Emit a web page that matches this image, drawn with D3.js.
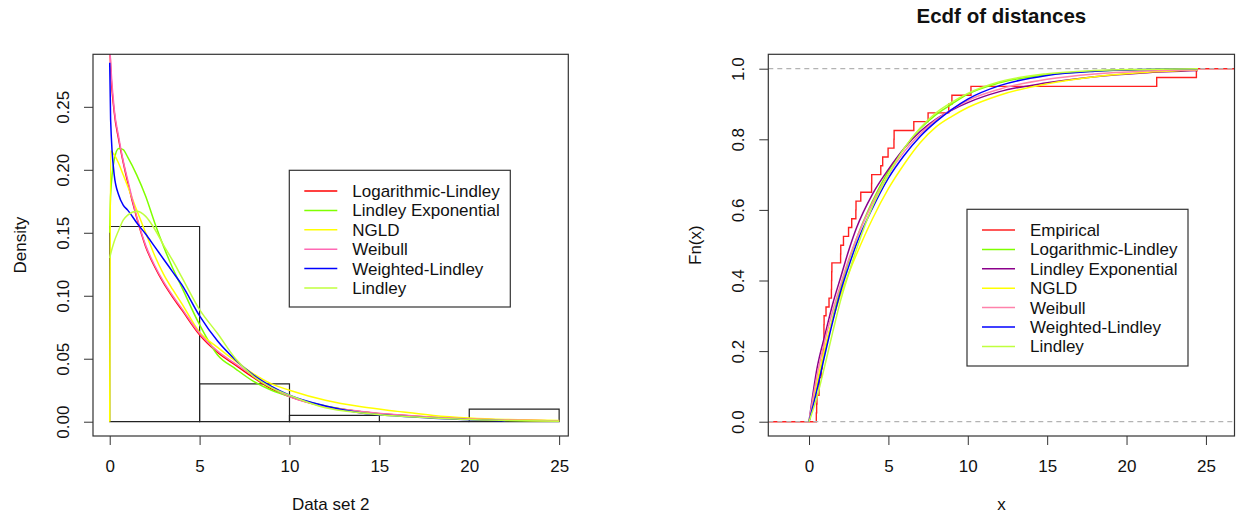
<!DOCTYPE html>
<html>
<head>
<meta charset="utf-8">
<script src="https://cdn.jsdelivr.net/npm/d3@7"></script>
<style>
    body { margin: 0; background: #fff; }
    svg text { font-family: "Liberation Sans", Arial, sans-serif; fill: #111; }
</style>
</head>
<body>
<div id="container"></div>
<script>
'use strict';
(function() {
    // ---- left panel: histogram of data set 2 + fitted densities ----
    var histBreaks = [0, 5, 10, 15, 20, 25];
    var histDensity = [0.155, 0.03, 0.005, 0, 0.01];

    var densX = [0, 0.05, 0.25, 0.5, 0.75, 1, 1.5, 2, 2.5, 3, 3.5, 4, 5, 6, 7, 8, 9, 10, 12, 14, 16, 18, 20, 22, 25];
    var densLogLindley = [0.3, 0.282, 0.246, 0.224, 0.206, 0.19, 0.162, 0.139, 0.123, 0.11, 0.099, 0.089, 0.069, 0.055, 0.045, 0.035, 0.026, 0.02, 0.012, 0.008, 0.0053, 0.0034, 0.0021, 0.0013, 0.0006];
    var densLindleyExp = [0.15, 0.18, 0.208, 0.217, 0.216, 0.21, 0.196, 0.179, 0.158, 0.139, 0.122, 0.107, 0.077, 0.053, 0.042, 0.032, 0.025, 0.02, 0.0125, 0.008, 0.005, 0.0033, 0.002, 0.0012, 0.0005];
    var densNGLD = [0, 0.215, 0.212, 0.205, 0.196, 0.187, 0.168, 0.15, 0.132, 0.117, 0.105, 0.094, 0.071, 0.059, 0.048, 0.038, 0.03, 0.025, 0.017, 0.0118, 0.0082, 0.005, 0.003, 0.0018, 0.001];
    var densWeibull = [0.3, 0.285, 0.248, 0.226, 0.207, 0.192, 0.163, 0.14, 0.124, 0.111, 0.1, 0.09, 0.07, 0.056, 0.046, 0.036, 0.027, 0.02, 0.012, 0.0082, 0.0055, 0.0035, 0.0022, 0.0013, 0.0006];
    var densWeightedLindley = [0.285, 0.24, 0.196, 0.18, 0.172, 0.168, 0.158, 0.149, 0.139, 0.129, 0.119, 0.109, 0.084, 0.064, 0.049, 0.037, 0.028, 0.021, 0.0125, 0.007, 0.0045, 0.0028, 0.0016, 0.0008, null];
    var densLindley = [0.13, 0.133, 0.143, 0.152, 0.16, 0.164, 0.167, 0.163, 0.153, 0.14, 0.128, 0.115, 0.089, 0.07, 0.05, 0.036, 0.027, 0.021, 0.011, 0.007, 0.0045, 0.003, 0.0017, 0.001, 0.0004];

    var densNames = ['Logarithmic-Lindley', 'Lindley Exponential', 'NGLD', 'Weibull', 'Weighted-Lindley', 'Lindley'];
    var densColors = ['#FF0000', '#7FFF00', '#FFFF00', '#FF69B4', '#0000FF', '#C0FF3E'];
    var densSeries = [densLogLindley, densLindleyExp, densNGLD, densWeibull, densWeightedLindley, densLindley];

    // ---- right panel: ecdf of distances + fitted cdfs ----
    var distances = [0.46, 0.48, 0.50, 0.63, 0.65, 0.78, 0.82, 0.88, 0.92, 0.94,
        0.94, 0.95, 1.07, 1.26, 1.41, 1.42, 1.43, 1.44, 1.99, 2.0,
        2.17, 2.49, 2.69, 2.95, 2.96, 3.26, 3.94, 3.95, 4.52, 4.64,
        4.98, 5.35, 5.36, 6.6, 7.5, 8.8, 9.0, 10.2, 21.9, 24.4];

    var cdfX = [0, 0.5, 1, 1.5, 2, 2.5, 3, 4, 5, 6, 7, 8, 9, 10, 12, 15, 18, 21, 24.5];
    var cdfLogLindley = [0, 0.1, 0.2, 0.295, 0.38, 0.455, 0.52, 0.625, 0.71, 0.775, 0.83, 0.87, 0.9, 0.928, 0.96, 0.983, 0.993, 0.997, 1.0];
    var cdfLindleyExp = [0, 0.15, 0.245, 0.335, 0.41, 0.485, 0.55, 0.645, 0.715, 0.775, 0.822, 0.857, 0.883, 0.904, 0.935, 0.96, 0.977, 0.988, 0.995];
    var cdfNGLD = [0, 0.11, 0.21, 0.29, 0.36, 0.42, 0.475, 0.575, 0.66, 0.73, 0.79, 0.835, 0.865, 0.89, 0.925, 0.957, 0.977, 0.989, 0.996];
    var cdfWeibull = [0, 0.13, 0.23, 0.315, 0.39, 0.46, 0.52, 0.62, 0.7, 0.765, 0.815, 0.855, 0.885, 0.91, 0.942, 0.97, 0.985, 0.993, 0.997];
    var cdfWeightedLindley = [0, 0.09, 0.19, 0.285, 0.37, 0.44, 0.505, 0.605, 0.69, 0.755, 0.808, 0.85, 0.885, 0.914, 0.952, 0.981, 0.993, 0.998, 1.0];
    var cdfLindley = [0, 0.07, 0.16, 0.255, 0.345, 0.42, 0.49, 0.61, 0.7, 0.775, 0.832, 0.875, 0.905, 0.93, 0.963, 0.986, 0.995, 0.998, 1.0];

    var cdfNames = ['Empirical', 'Logarithmic-Lindley', 'Lindley Exponential', 'NGLD', 'Weibull', 'Weighted-Lindley', 'Lindley'];
    var cdfColors = ['#FF2020', '#7FFF00', '#8B008B', '#FFFF00', '#FF82AB', '#0000FF', '#C0FF3E'];
    var cdfSeries = [cdfLogLindley, cdfLindleyExp, cdfNGLD, cdfWeibull, cdfWeightedLindley, cdfLindley];

    var xTicks = [0, 5, 10, 15, 20, 25];
    var yTicksL = [0, 0.05, 0.1, 0.15, 0.2, 0.25];
    var yTicksR = [0, 0.2, 0.4, 0.6, 0.8, 1.0];

    // plot regions
    var boxL = {left: 93, right: 568.3, top: 54.3, bottom: 436};
    var boxR = {left: 768.3, right: 1234.5, top: 54.3, bottom: 436};

    var svg = d3.select('#container').append('svg')
        .attr('width', 1236)
        .attr('height', 518);

    var xL = d3.scaleLinear().domain([-0.93, 25.51]).range([boxL.left, boxL.right]);
    var yL = d3.scaleLinear().domain([-0.01135, 0.2917]).range([boxL.bottom, boxL.top]);
    var xR = d3.scaleLinear().domain([-2.565, 26.8]).range([boxR.left, boxR.right]);
    var yR = d3.scaleLinear().domain([-0.0405, 1.0408]).range([boxR.bottom, boxR.top]);

    var defs = svg.append('defs');
    function addClip(id, box) {
        defs.append('clipPath').attr('id', id).append('rect')
            .attr('x', box.left).attr('y', box.top)
            .attr('width', box.right - box.left)
            .attr('height', box.bottom - box.top);
    }
    addClip('clipL', boxL);
    addClip('clipR', boxR);

    function drawAxes(box, x, y, yTicks, yFormat) {
        var gx = svg.append('g')
            .attr('transform', 'translate(0,' + box.bottom + ')')
            .call(d3.axisBottom(x).tickValues(xTicks).tickFormat(d3.format('d')).tickSize(9).tickSizeOuter(0));
        gx.select('.domain').remove();
        gx.selectAll('text').attr('y', 35.5).attr('dy', null);

        var gy = svg.append('g')
            .attr('transform', 'translate(' + box.left + ',0)')
            .call(d3.axisLeft(y).tickValues(yTicks).tickFormat(d3.format(yFormat)).tickSize(9).tickSizeOuter(0));
        gy.select('.domain').remove();
        gy.selectAll('text')
            .attr('x', null).attr('dy', null)
            .attr('y', -24)
            .attr('transform', 'rotate(-90)')
            .attr('text-anchor', 'middle');

        [gx, gy].forEach(function(g) {
            g.attr('color', '#333')
                .attr('font-size', 17)
                .attr('font-family', '"Liberation Sans", Arial, sans-serif');
        });

        svg.append('rect')
            .attr('x', box.left).attr('y', box.top)
            .attr('width', box.right - box.left)
            .attr('height', box.bottom - box.top)
            .attr('fill', 'none')
            .attr('stroke', '#333')
            .attr('stroke-width', 1.2);
    }

    function drawLegend(x0, y0, w, h, names, colors) {
        var g = svg.append('g');
        g.append('rect')
            .attr('x', x0).attr('y', y0).attr('width', w).attr('height', h)
            .attr('fill', '#fff').attr('stroke', '#333').attr('stroke-width', 1.2);
        var rows = g.selectAll('.row').data(names).enter().append('g')
            .attr('class', 'row')
            .attr('transform', function(d, i) {
                return 'translate(' + x0 + ',' + (y0 + 20.7 + i * 19.4) + ')';
            });
        rows.append('line')
            .attr('x1', 15).attr('x2', 48)
            .attr('stroke', function(d, i) { return colors[i]; })
            .attr('stroke-width', 1.5);
        rows.append('text')
            .attr('x', 63).attr('dy', 6)
            .attr('font-size', 17)
            .text(function(d) { return d; });
    }

    // ---- left panel ----
    var bars = histDensity.map(function(d, i) {
        return [[histBreaks[i], 0], [histBreaks[i], d], [histBreaks[i + 1], d], [histBreaks[i + 1], 0]];
    });
    var barLine = d3.line()
        .x(function(d) { return xL(d[0]); })
        .y(function(d) { return yL(d[1]); });
    svg.append('g').selectAll('path').data(bars).enter().append('path')
        .attr('d', function(d) { return barLine(d) + 'Z'; })
        .attr('fill', 'none')
        .attr('stroke', '#222')
        .attr('stroke-width', 1.2);

    var densLine = d3.line()
        .defined(function(d) { return d[1] != null; })
        .x(function(d) { return xL(d[0]); })
        .y(function(d) { return yL(d[1]); })
        .curve(d3.curveMonotoneX);
    svg.append('g').attr('clip-path', 'url(#clipL)')
        .selectAll('path').data(densSeries).enter().append('path')
        .attr('d', function(s) {
            return densLine(densX.map(function(x, i) { return [x, s[i]]; }));
        })
        .attr('fill', 'none')
        .attr('stroke', function(s, i) { return densColors[i]; })
        .attr('stroke-width', 1.5);

    drawAxes(boxL, xL, yL, yTicksL, '.2f');
    drawLegend(289.3, 170.3, 221, 136.7, densNames, densColors);

    svg.append('text')
        .attr('x', (boxL.left + boxL.right) / 2).attr('y', 510)
        .attr('text-anchor', 'middle').attr('font-size', 17)
        .text('Data set 2');
    svg.append('text')
        .attr('transform', 'translate(25.5,' + (boxL.top + boxL.bottom) / 2 + ') rotate(-90)')
        .attr('text-anchor', 'middle').attr('font-size', 17)
        .text('Density');

    // ---- right panel ----
    var n = distances.length;
    var ecdfPts = [[xR.domain()[0], 0]];
    distances.forEach(function(d, i) { ecdfPts.push([d, (i + 1) / n]); });
    ecdfPts.push([xR.domain()[1], 1]);

    var plotR = svg.append('g').attr('clip-path', 'url(#clipR)');
    plotR.append('path')
        .attr('d', d3.line()
            .x(function(d) { return xR(d[0]); })
            .y(function(d) { return yR(d[1]); })
            .curve(d3.curveStepAfter)(ecdfPts))
        .attr('fill', 'none')
        .attr('stroke', cdfColors[0])
        .attr('stroke-width', 1.4);

    plotR.selectAll('.hline').data([0, 1]).enter().append('line')
        .attr('class', 'hline')
        .attr('x1', boxR.left).attr('x2', boxR.right)
        .attr('y1', function(d) { return yR(d); })
        .attr('y2', function(d) { return yR(d); })
        .attr('stroke', '#b3b3b3')
        .attr('stroke-dasharray', '5,4')
        .attr('stroke-width', 1.2);

    var cdfLine = d3.line()
        .x(function(d) { return xR(d[0]); })
        .y(function(d) { return yR(d[1]); })
        .curve(d3.curveMonotoneX);
    plotR.selectAll('.cdf').data(cdfSeries).enter().append('path')
        .attr('class', 'cdf')
        .attr('d', function(s) {
            return cdfLine(cdfX.map(function(x, i) { return [x, s[i]]; }));
        })
        .attr('fill', 'none')
        .attr('stroke', function(s, i) { return cdfColors[i + 1]; })
        .attr('stroke-width', 1.5);

    drawAxes(boxR, xR, yR, yTicksR, '.1f');
    drawLegend(967, 209.3, 221, 156.7, cdfNames, cdfColors);

    svg.append('text')
        .attr('x', (boxR.left + boxR.right) / 2).attr('y', 23)
        .attr('text-anchor', 'middle')
        .attr('font-size', 20.5).attr('font-weight', 'bold')
        .text('Ecdf of distances');
    svg.append('text')
        .attr('x', (boxR.left + boxR.right) / 2).attr('y', 510)
        .attr('text-anchor', 'middle').attr('font-size', 17)
        .text('x');
    svg.append('text')
        .attr('transform', 'translate(700.8,' + (boxR.top + boxR.bottom) / 2 + ') rotate(-90)')
        .attr('text-anchor', 'middle').attr('font-size', 17)
        .text('Fn(x)');
})();
</script>
</body>
</html>
